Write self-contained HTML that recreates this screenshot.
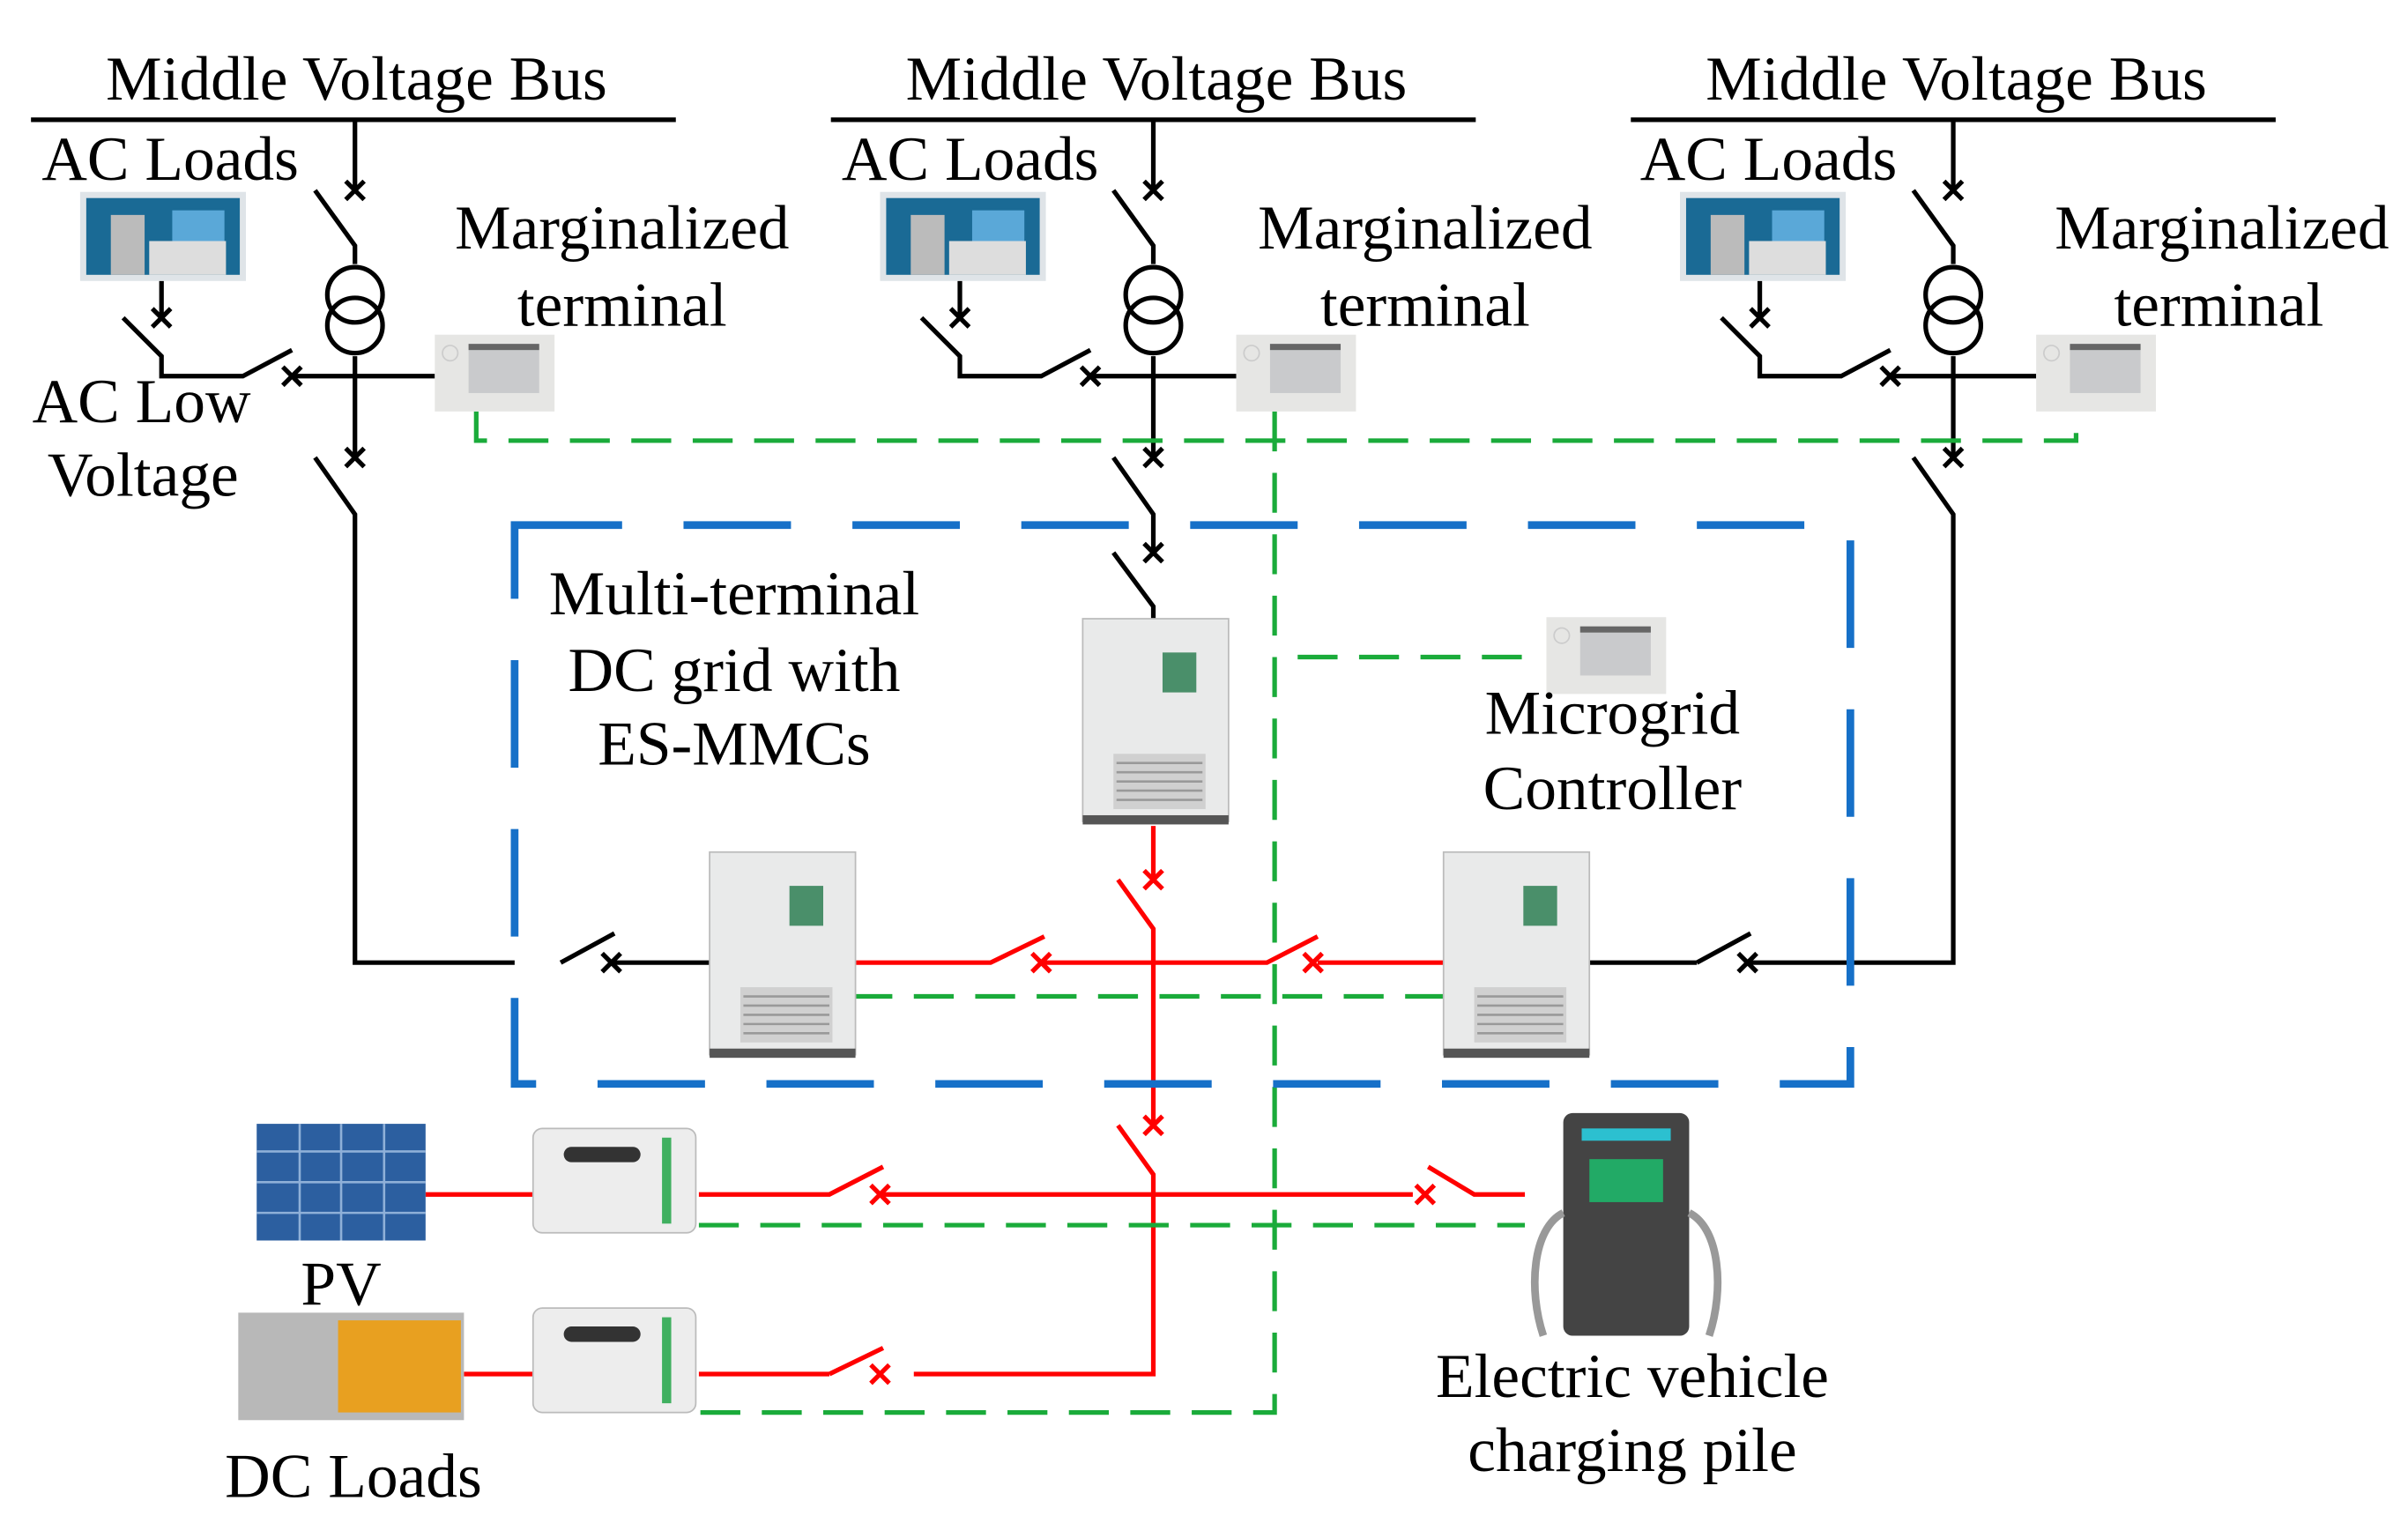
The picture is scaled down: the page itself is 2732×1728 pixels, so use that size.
<!DOCTYPE html>
<html><head><meta charset="utf-8"><style>
html,body{margin:0;padding:0;background:#fff}
svg{display:block}
text{font-family:"Liberation Serif",serif;font-size:41px;fill:#000}
</style></head><body>
<svg width="2732" height="1728" viewBox="0 0 1568 992" xmlns="http://www.w3.org/2000/svg">
<defs>
<g id="xm"><path d="M-6,-6L6,6M-6,6L6,-6" stroke-width="3"/></g>
<g id="term">
<rect x="0" y="0" width="78" height="50" fill="#e6e6e4"/>
<rect x="22" y="6" width="46" height="32" fill="#c9cacc"/>
<rect x="22" y="6" width="46" height="4" fill="#666"/>
<circle cx="10" cy="12" r="5" fill="none" stroke="#ccc"/>
</g>
<g id="conv">
<rect x="0" y="0" width="95" height="132" fill="#e9eaea" stroke="#bbb"/>
<rect x="52" y="22" width="22" height="26" fill="#4a8f6a"/>
<rect x="20" y="88" width="60" height="36" fill="#d0d0d0"/>
<path d="M22,94h56M22,100h56M22,106h56M22,112h56M22,118h56" stroke="#999" stroke-width="1.5"/>
<rect x="0" y="128" width="95" height="6" fill="#555"/>
</g>
<g id="inv">
<rect x="0" y="0" width="106" height="68" rx="6" fill="#ededed" stroke="#bbb"/>
<rect x="20" y="12" width="50" height="10" rx="5" fill="#333"/>
<rect x="84" y="6" width="6" height="56" fill="#40b060"/>
</g>
<g id="acl">
<rect x="0" y="0" width="108" height="58" fill="#dfe4e8"/>
<rect x="4" y="4" width="100" height="50" fill="#1a6a95"/>
<rect x="20" y="15" width="22" height="39" fill="#bbb"/>
<rect x="60" y="12" width="34" height="22" fill="#5aa8d8"/>
<rect x="45" y="32" width="50" height="22" fill="#ddd"/>
</g>
</defs>

<g stroke="#000" stroke-width="3" fill="none">
<path d="M20,78H440M541,78H961M1062,78H1482"/>
<path d="M231,78V124M205,124L231,160V172M231,232V298M205,298L231,335V627H335M365,627L400,608M398,627H468"/>
<circle cx="231" cy="192" r="18"/><circle cx="231" cy="212" r="18"/>
<path d="M105,183V207M80,207L105,232V245H158L190,228M190,245H283"/>
<path d="M751,78V124M725,124L751,160V172M751,232V298M725,298L751,335V360M725,360L751,395V403"/>
<circle cx="751" cy="192" r="18"/><circle cx="751" cy="212" r="18"/>
<path d="M625,183V207M600,207L625,232V245H678L710,228M710,245H805"/>
<path d="M1272,78V124M1246,124L1272,160V172M1272,232V298M1246,298L1272,335V627H1140M1105,627L1140,608M1105,627H1035"/>
<circle cx="1272" cy="192" r="18"/><circle cx="1272" cy="212" r="18"/>
<path d="M1146,183V207M1121,207L1146,232V245H1199L1231,228M1231,245H1326"/>
</g>
<g stroke="#000" fill="none">
<use href="#xm" x="231" y="124"/><use href="#xm" x="231" y="298"/><use href="#xm" x="398" y="627"/>
<use href="#xm" x="105" y="207"/><use href="#xm" x="190" y="245"/>
<use href="#xm" x="751" y="124"/><use href="#xm" x="751" y="298"/><use href="#xm" x="751" y="360"/>
<use href="#xm" x="625" y="207"/><use href="#xm" x="710" y="245"/>
<use href="#xm" x="1272" y="124"/><use href="#xm" x="1272" y="298"/><use href="#xm" x="1138" y="627"/>
<use href="#xm" x="1146" y="207"/><use href="#xm" x="1231" y="245"/>
</g>

<g stroke="#f00" stroke-width="3" fill="none">
<path d="M751,538V573M728,573L751,605V733M728,733L751,765V895H595M540,895L575,878M540,895H455"/>
<path d="M553,627H645L680,610M680,627H825L858,610M858,627H945"/>
<path d="M455,778H540L575,760M575,778H920M930,760L960,778H993"/>
<path d="M277,778H347M302,895H347"/>
</g>
<g stroke="#f00" fill="none">
<use href="#xm" x="751" y="573"/><use href="#xm" x="751" y="733"/><use href="#xm" x="573" y="895"/>
<use href="#xm" x="678" y="627"/><use href="#xm" x="855" y="627"/><use href="#xm" x="573" y="778"/><use href="#xm" x="928" y="778"/>
</g>

<g stroke="#1aab3a" stroke-width="3" fill="none" stroke-dasharray="26,14">
<path d="M310,268V287H1352V268"/>
<path d="M830,268V920H455"/>
<path d="M845,428H1005"/>
<path d="M555,649H940"/>
<path d="M455,798H993"/>
</g>

<rect x="335" y="342" width="870" height="364" fill="none" stroke="#1670c8" stroke-width="5" stroke-dasharray="70,40"/>

<use href="#acl" x="52" y="125"/><use href="#acl" x="573" y="125"/><use href="#acl" x="1094" y="125"/>
<use href="#term" x="283" y="218"/><use href="#term" x="805" y="218"/><use href="#term" x="1326" y="218"/>
<use href="#term" x="1007" y="402"/>
<use href="#conv" x="705" y="403"/><use href="#conv" x="462" y="555"/><use href="#conv" x="940" y="555"/>
<use href="#inv" x="347" y="735"/><use href="#inv" x="347" y="852"/>
<rect x="167" y="732" width="110" height="76" fill="#2c5fa0"/>
<path d="M167,750H277M167,770H277M167,790H277M195,732V808M222,732V808M250,732V808" stroke="#8fb0d8" stroke-width="1.5"/>
<rect x="155" y="855" width="147" height="70" fill="#b8b8b8"/>
<rect x="220" y="860" width="80" height="60" fill="#e8a020"/>
<rect x="1018" y="725" width="82" height="145" rx="6" fill="#444"/>
<rect x="1030" y="735" width="58" height="8" fill="#2cc0d0"/>
<rect x="1035" y="755" width="48" height="28" fill="#2a6"/>
<path d="M1018,790C998,800 995,840 1005,870M1100,790C1120,800 1123,840 1113,870" stroke="#999" stroke-width="5" fill="none"/>

<g text-anchor="middle">
<text x="232" y="65">Middle Voltage Bus</text>
<text x="753" y="65">Middle Voltage Bus</text>
<text x="1274" y="65">Middle Voltage Bus</text>
<text x="405" y="162">Marginalized</text><text x="405" y="212">terminal</text>
<text x="928" y="162">Marginalized</text><text x="928" y="212">terminal</text>
<text x="1447" y="162">Marginalized</text><text x="1445" y="212">terminal</text>
<text x="92" y="275">AC Low</text><text x="93" y="323">Voltage</text>
<text x="478" y="400">Multi-terminal</text><text x="478" y="450">DC grid with</text><text x="478" y="498">ES-MMCs</text>
<text x="1050" y="478">Microgrid</text><text x="1050" y="527">Controller</text>
<text x="222" y="850">PV</text>
<text x="230" y="975">DC Loads</text>
<text x="1063" y="910">Electric vehicle</text><text x="1063" y="958">charging pile</text>
</g>
<text x="27" y="117">AC Loads</text>
<text x="548" y="117">AC Loads</text>
<text x="1068" y="117">AC Loads</text>
</svg>
</body></html>
